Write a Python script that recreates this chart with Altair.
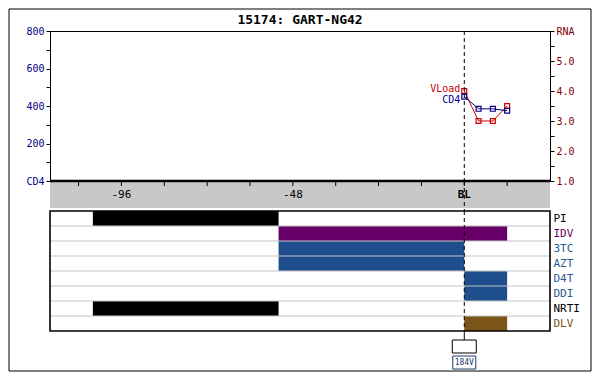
import altair as alt
import pandas as pd

# ---------------- data ----------------
chart_title = "15174: GART-NG42"
weeks = [0, 4, 8, 12]
cd4 = [450, 385, 385, 375]
rna = [4.0, 3.0, 3.0, 3.5]

drugs = ["PI", "IDV", "3TC", "AZT", "D4T", "DDI", "NRTI", "DLV"]
drug_start = [-104, -52, -52, -52, 0, 0, -104, 0]
drug_end = [-52, 12, 0, 0, 12, 12, -52, 12]
drug_colors = ["#000000", "#660066", "#1F4E8C", "#1F4E8C",
               "#1F4E8C", "#1F4E8C", "#000000", "#7B5417"]
label_colors = ["#000000", "#660066", "#2A5A96", "#2A5A96",
                "#2A5A96", "#2A5A96", "#000000", "#7B5417"]

tick_weeks = [-108, -96, -84, -72, -60, -48, -36, -24, -12, 0, 12]
label_weeks = [-96, -48]
label_texts = ["-96", "-48"]
baseline_week = [0]
baseline_text = ["BL"]
mutations = ["184V"]

cd4_ticks = [0, 100, 200, 300, 400, 500, 600, 700, 800]
rna_ticks = [1.0, 1.5, 2.0, 2.5, 3.0, 3.5, 4.0, 4.5, 5.0, 5.5, 6.0]

x_domain = [-116, 24]
FONT = "DejaVu Sans Mono"
W = 500

# ---------------- helpers ----------------
vdf = pd.DataFrame({"week": weeks, "cd4": cd4, "rna": rna})
one = pd.DataFrame({"t": [chart_title]})
bldf = pd.DataFrame({"week": baseline_week, "t": baseline_text})
xs = alt.Scale(domain=x_domain, nice=False, zero=False)
X = alt.X("week:Q", scale=xs, axis=None)

# ---------------- top panel ----------------
Ycd4 = alt.Y("cd4:Q", scale=alt.Scale(domain=[0, 800], nice=False),
             axis=alt.Axis(orient="left", values=cd4_ticks, title=None, grid=False,
                           labelExpr="datum.value == 0 ? 'CD4' : (datum.value % 200 == 0 ? datum.label : '')",
                           domainColor="black", tickColor="black", tickSize=4,
                           labelColor="#000080", labelFont=FONT, labelFontSize=10,
                           labelPadding=2))
Yrna = alt.Y("rna:Q", scale=alt.Scale(domain=[1, 6], nice=False, zero=False),
             axis=alt.Axis(orient="right", values=rna_ticks, title=None, grid=False,
                           labelExpr="datum.value == 6 ? 'RNA' : (datum.value % 1 == 0 ? format(datum.value, '.1f') : '')",
                           domainColor="black", tickColor="black", tickSize=4,
                           labelColor="#800000", labelFont=FONT, labelFontSize=10,
                           labelPadding=2))

base = alt.Chart(vdf)
rna_layer = alt.layer(
    base.mark_line(color="#CC0000", strokeWidth=1).encode(x=X, y=Yrna),
    base.mark_point(shape="square", size=24, color="#CC0000", filled=False,
                    strokeWidth=1.2, opacity=1).encode(x=X, y=Yrna),
    alt.Chart(vdf.iloc[:1].assign(t="VLoad")).mark_text(
        align="right", dx=-4, dy=-2, color="#CC0000", font=FONT, fontSize=10
    ).encode(x=X, y=Yrna, text="t:N"),
)
cd4_layer = alt.layer(
    base.mark_line(color="#000080", strokeWidth=1).encode(x=X, y=Ycd4),
    base.mark_point(shape="square", size=24, color="#000080", filled=False,
                    strokeWidth=1.2, opacity=1).encode(x=X, y=Ycd4),
    alt.Chart(vdf.iloc[:1].assign(t="CD4")).mark_text(
        align="right", dx=-4, dy=3, color="#000099", font=FONT, fontSize=10
    ).encode(x=X, y=Ycd4, text="t:N"),
)
frame = alt.Chart(one).mark_rect(fillOpacity=0, stroke="black", strokeWidth=1).encode(
    x=alt.value(-41), x2=alt.value(541), y=alt.value(-22), y2=alt.value(340))
title_txt = alt.Chart(one).mark_text(font=FONT, fontSize=13, fontWeight="bold",
                                     color="black").encode(
    x=alt.value(W / 2), y=alt.value(-11), text="t:N")
dash_top = alt.Chart(bldf).mark_rule(strokeDash=[4, 3], color="black",
                                     strokeWidth=1).encode(x=X)

top = alt.layer(frame, title_txt, rna_layer, cd4_layer, dash_top).resolve_scale(
    y="independent").properties(width=W, height=150,
                                view=alt.ViewBackground(stroke="black", strokeWidth=1))

# ---------------- gray axis band ----------------
gray_bg = alt.Chart(one).mark_rect(color="#C8C8C8").encode(
    x=alt.value(0), x2=alt.value(W), y=alt.value(0), y2=alt.value(27))
thick = alt.Chart(one).mark_rule(color="black", strokeWidth=2.5).encode(
    x=alt.value(0), x2=alt.value(W), y=alt.value(0))
ticks = alt.Chart(pd.DataFrame({"week": tick_weeks})).mark_rule(color="black").encode(
    x=X, y=alt.value(0), y2=alt.value(5))
lbls = alt.Chart(pd.DataFrame({"week": label_weeks, "t": label_texts})).mark_text(
    font=FONT, fontSize=11, color="black").encode(x=X, y=alt.value(14), text="t:N")
bl_lbl = alt.Chart(bldf).mark_text(font=FONT, fontSize=11, fontWeight="bold",
                                  color="black").encode(x=X, y=alt.value(14), text="t:N")
dash_mid = alt.Chart(bldf).mark_rule(strokeDash=[4, 3], color="black").encode(x=X)
band = alt.layer(gray_bg, thick, ticks, lbls, bl_lbl, dash_mid).properties(
    width=W, height=30, view=alt.ViewBackground(stroke=None))

# ---------------- drug panel ----------------
ddf = pd.DataFrame({"drug": drugs, "start": drug_start, "end": drug_end})
yscale = alt.Scale(domain=drugs, paddingInner=0, paddingOuter=0)
cond = []
for c in sorted(set(label_colors)):
    if c == "#000000":
        continue
    names = [d for d, lc in zip(drugs, label_colors) if lc == c]
    test = "indexof([" + ",".join("'%s'" % n for n in names) + "], datum.value) >= 0"
    cond.append({"test": test, "value": c})
drug_axis = alt.Axis(orient="right", title=None, ticks=False, domain=False, grid=False,
                     labelFont=FONT, labelFontSize=11, labelPadding=3,
                     labelColor={"condition": cond, "value": "#000000"})
Yd = alt.Y("drug:N", sort=drugs, scale=yscale, axis=drug_axis)
bars = alt.Chart(ddf).mark_rect().encode(
    x=alt.X("start:Q", scale=xs, axis=None), x2="end:Q", y=Yd,
    color=alt.Color("drug:N", scale=alt.Scale(domain=drugs, range=drug_colors), legend=None))
seps = alt.Chart(ddf.iloc[1:]).mark_rule(color="#C4C4C4", strokeWidth=1).encode(
    y=alt.Y("drug:N", sort=drugs, scale=yscale, bandPosition=0, axis=None),
    x=alt.value(0), x2=alt.value(W))
dash_d = alt.Chart(bldf).mark_rule(strokeDash=[4, 3], color="black").encode(x=X)
border = alt.Chart(one).mark_rect(fillOpacity=0, stroke="black", strokeWidth=1.6).encode(
    x=alt.value(0), x2=alt.value(W), y=alt.value(0), y2=alt.value(120))
drug_panel = alt.layer(bars, seps, dash_d, border).resolve_axis(y="independent").properties(
    width=W, height=120, view=alt.ViewBackground(stroke=None))

# ---------------- mutation annotation ----------------
mdf = pd.DataFrame({"week": baseline_week, "m": mutations})
stem = alt.Chart(mdf).mark_rule(color="black").encode(x=X, y=alt.value(0), y2=alt.value(9))
box = alt.Chart(mdf).mark_rect(width=24, fill="white", stroke="black", strokeWidth=1).encode(
    x=X, y=alt.value(9), y2=alt.value(22))
mbox = alt.Chart(mdf).mark_rect(width=23, fill="white", stroke="#1A3A6A", strokeWidth=1).encode(
    x=X, y=alt.value(25), y2=alt.value(38))
mtxt = alt.Chart(mdf).mark_text(font=FONT, fontSize=8, color="#1A3A6A").encode(
    x=X, y=alt.value(31.5), text="m:N")
bottom = alt.layer(stem, box, mbox, mtxt).properties(
    width=W, height=40, view=alt.ViewBackground(stroke=None))

chart = alt.vconcat(top, band, drug_panel, bottom, spacing=0, bounds="flush").properties(
    padding=0, background="white"
).configure_view(stroke=None)

chart.save("out.html", embed_options={"renderer": "svg", "actions": False})
